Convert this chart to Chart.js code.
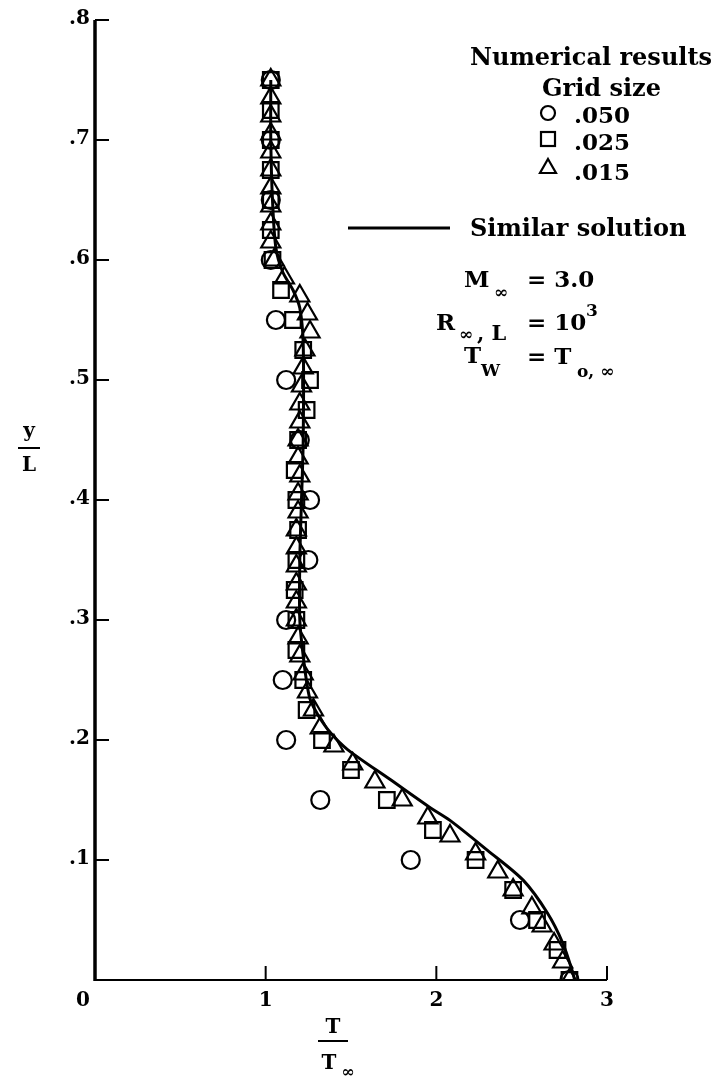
<!DOCTYPE html>
<html>
<head>
<meta charset="utf-8">
<script src="https://cdn.jsdelivr.net/npm/chart.js@4.4.0/dist/chart.umd.min.js"></script>
<style>
    html, body { margin: 0; padding: 0; background: #fff; }
    #wrap { width: 726px; height: 1084px; }
</style>
</head>
<body>
<div id="wrap"><canvas id="profileChart" width="726" height="1084"></canvas></div>
<script>
// Temperature profile T/T∞ against y/L
const xTicks = [0, 1, 2, 3];
const yTicks = [0.1, 0.2, 0.3, 0.4, 0.5, 0.6, 0.7, 0.8];
const yTickLabels = ['.1', '.2', '.3', '.4', '.5', '.6', '.7', '.8'];

// grid size .050
const circleY = [0, .05, .10, .15, .20, .25, .30, .35, .40, .45, .50, .55, .60, .65, .70, .75];
const circleT = [2.78, 2.49, 1.85, 1.32, 1.12, 1.10, 1.12, 1.25, 1.26, 1.20, 1.12, 1.06, 1.03, 1.03, 1.03, 1.03];

// grid size .025
const squareY = [0, .025, .05, .075, .10, .125, .15, .175, .20, .225, .25, .275, .30, .325, .35, .375,
    .40, .425, .45, .475, .50, .525, .55, .575, .60, .625, .65, .675, .70, .725, .75];
const squareT = [2.78, 2.71, 2.59, 2.45, 2.23, 1.98, 1.71, 1.50, 1.33, 1.24, 1.22, 1.18, 1.18, 1.17, 1.18, 1.19,
    1.18, 1.17, 1.19, 1.24, 1.26, 1.22, 1.16, 1.09, 1.04, 1.03, 1.03, 1.03, 1.03, 1.03, 1.03];

// grid size .015
const triangleY = [0, .015, .03, .045, .06, .075, .09, .105, .12, .135, .15, .165, .18, .195, .21, .225,
    .24, .255, .27, .285, .30, .315, .33, .345, .36, .375, .39, .405, .42, .435, .45, .465, .48, .495,
    .51, .525, .54, .555, .57, .585, .60, .615, .63, .645, .66, .675, .69, .705, .72, .735, .75];
const triangleT = [2.78, 2.74, 2.69, 2.62, 2.56, 2.45, 2.36, 2.23, 2.08, 1.95, 1.80, 1.64, 1.51, 1.40, 1.32, 1.28,
    1.245, 1.22, 1.20, 1.19, 1.18, 1.18, 1.18, 1.18, 1.18, 1.18, 1.19, 1.19, 1.20, 1.19, 1.19, 1.20, 1.20, 1.21,
    1.22, 1.23, 1.26, 1.245, 1.20, 1.11, 1.05, 1.03, 1.03, 1.03, 1.03, 1.03, 1.03, 1.03, 1.03, 1.03, 1.03];

// similar solution
const solutionY = [0.75, 0.70, 0.65, 0.61, 0.59, 0.575, 0.56, 0.53, 0.45, 0.40, 0.35, 0.30, 0.27, 0.244,
    0.233, 0.22, 0.206, 0.192, 0.167, 0.144, 0.133, 0.108, 0.083, 0.056, 0.031, 0.006, 0];
const solutionT = [1.03, 1.03, 1.04, 1.06, 1.10, 1.16, 1.20, 1.22, 1.22, 1.21, 1.20, 1.20, 1.22, 1.245,
    1.263, 1.31, 1.38, 1.48, 1.73, 1.96, 2.08, 2.30, 2.51, 2.65, 2.74, 2.80, 2.81];

function pairs(xs, ys) {
    return xs.map((x, i) => ({ x: x, y: ys[i] }));
}

const SERIF = '"DejaVu Serif", "Liberation Serif", serif';

const axesAndNotes = {
    id: 'axesAndNotes',
    beforeDatasetsDraw(chart) {
        const ctx = chart.ctx;
        const xs = chart.scales.x, ys = chart.scales.y;
        const x0 = xs.getPixelForValue(0), x3 = xs.getPixelForValue(3);
        const y0 = ys.getPixelForValue(0), yTop = ys.getPixelForValue(0.8);
        ctx.save();
        ctx.strokeStyle = '#000';
        ctx.lineCap = 'butt';
        // axes
        ctx.lineWidth = 3.5;
        ctx.beginPath();
        ctx.moveTo(x0, yTop);
        ctx.lineTo(x0, y0 + 1);
        ctx.stroke();
        ctx.lineWidth = 2.2;
        ctx.beginPath();
        ctx.moveTo(x0, y0);
        ctx.lineTo(x3, y0);
        ctx.stroke();
        // ticks
        ctx.lineWidth = 2;
        yTicks.forEach(v => {
            const py = ys.getPixelForValue(v);
            ctx.beginPath();
            ctx.moveTo(x0, py);
            ctx.lineTo(x0 + 14, py);
            ctx.stroke();
        });
        xTicks.slice(1).forEach(v => {
            const px = xs.getPixelForValue(v);
            ctx.beginPath();
            ctx.moveTo(px, y0);
            ctx.lineTo(px, y0 - 14);
            ctx.stroke();
        });
        // tick labels
        ctx.fillStyle = '#000';
        ctx.font = 'bold 20px ' + SERIF;
        ctx.textBaseline = 'middle';
        ctx.textAlign = 'right';
        yTicks.forEach((v, i) => {
            ctx.fillText(yTickLabels[i], x0 - 5, ys.getPixelForValue(v) - 1);
        });
        ctx.textAlign = 'center';
        xTicks.forEach(v => {
            const px = xs.getPixelForValue(v) - (v === 0 ? 12 : 0);
            ctx.fillText(String(v), px, y0 + 21);
        });
        ctx.restore();
    },
    afterDraw(chart) {
        const ctx = chart.ctx;
        ctx.save();
        ctx.fillStyle = '#000';
        ctx.strokeStyle = '#000';
        ctx.textBaseline = 'alphabetic';

        // axis titles
        ctx.font = 'bold 20px ' + SERIF;
        ctx.textAlign = 'center';
        ctx.fillText('y', 29, 437);
        ctx.fillText('L', 29, 471);
        ctx.lineWidth = 2;
        ctx.beginPath(); ctx.moveTo(18, 448); ctx.lineTo(40, 448); ctx.stroke();

        ctx.fillText('T', 333, 1033);
        ctx.beginPath(); ctx.moveTo(318, 1041); ctx.lineTo(348, 1041); ctx.stroke();
        ctx.fillText('T', 329, 1069);
        ctx.font = 'bold 16px ' + SERIF;
        ctx.fillText('∞', 348, 1077);

        // legend
        ctx.textAlign = 'left';
        ctx.font = 'bold 24px ' + SERIF;
        ctx.fillText('Numerical results', 470, 65);
        ctx.fillText('Grid size', 542, 96);
        ctx.fillText('Similar solution', 470, 236);
        ctx.font = 'bold 23px ' + SERIF;
        ctx.fillText('.050', 574, 123);
        ctx.fillText('.025', 574, 150);
        ctx.fillText('.015', 574, 180);

        ctx.lineWidth = 2.2;
        ctx.beginPath(); ctx.arc(548, 113, 7, 0, Math.PI * 2); ctx.stroke();
        ctx.strokeRect(541, 132, 14, 14);
        ctx.beginPath();
        ctx.moveTo(548, 159); ctx.lineTo(556, 173); ctx.lineTo(540, 173); ctx.closePath(); ctx.stroke();

        ctx.lineWidth = 3;
        ctx.beginPath(); ctx.moveTo(348, 228); ctx.lineTo(450, 228); ctx.stroke();

        // flow conditions
        ctx.font = 'bold 23px ' + SERIF;
        ctx.fillText('M', 464, 287);
        ctx.fillText('= 3.0', 527, 287);
        ctx.fillText('R', 436, 330);
        ctx.fillText('= 10', 527, 330);
        ctx.fillText('T', 464, 363);
        ctx.fillText('= T', 527, 364);
        ctx.font = 'bold 21px ' + SERIF;
        ctx.fillText(', L', 477, 340);
        ctx.font = 'bold 17px ' + SERIF;
        ctx.fillText('∞', 494, 298);
        ctx.fillText('∞', 459, 340);
        ctx.fillText('3', 586, 316);
        ctx.fillText('W', 481, 376);
        ctx.fillText('o, ∞', 577, 377);
        ctx.restore();
    }
};

const hollow = 'rgba(0,0,0,0)';

new Chart(document.getElementById('profileChart'), {
    type: 'scatter',
    data: {
        datasets: [
            {
                label: 'Similar solution',
                data: pairs(solutionT, solutionY),
                showLine: true,
                borderColor: '#000',
                borderWidth: 3,
                pointRadius: 0,
                tension: 0.3,
                order: 4
            },
            {
                label: '.050',
                data: pairs(circleT, circleY),
                pointStyle: 'circle',
                pointRadius: 9,
                borderColor: '#000',
                backgroundColor: hollow,
                borderWidth: 2.2,
                order: 3
            },
            {
                label: '.025',
                data: pairs(squareT, squareY),
                pointStyle: 'rect',
                pointRadius: 11,
                borderColor: '#000',
                backgroundColor: hollow,
                borderWidth: 2.2,
                order: 2
            },
            {
                label: '.015',
                data: pairs(triangleT, triangleY),
                pointStyle: 'triangle',
                pointRadius: 11,
                borderColor: '#000',
                backgroundColor: hollow,
                borderWidth: 2.2,
                order: 1
            }
        ]
    },
    options: {
        responsive: false,
        animation: false,
        layout: { padding: { left: 95, right: 119, top: 20, bottom: 104 } },
        plugins: {
            legend: { display: false },
            tooltip: { enabled: false }
        },
        scales: {
            x: { type: 'linear', min: 0, max: 3, display: false },
            y: { type: 'linear', min: 0, max: 0.8, display: false }
        }
    },
    plugins: [axesAndNotes]
});
</script>
</body>
</html>
